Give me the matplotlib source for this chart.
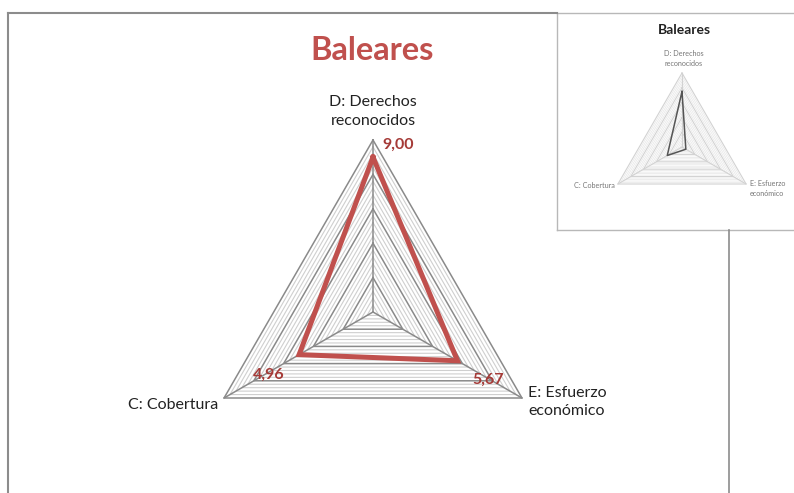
import numpy as np
import matplotlib
matplotlib.use("Agg")
import matplotlib.pyplot as plt
from matplotlib.lines import Line2D

# — DATA —
TITLE      = "Baleares"
CATEGORIES = ["D: Derechos\nreconocidos", "E: Esfuerzo\neconómico", "C: Cobertura"]
VALUES     = [9.00, 5.67, 4.96]
VALUE_TXT  = ["9,00", "5,67", "4,96"]
# thumbnail in the corner shows an older version of the same chart
THUMB_VALUES = [7.5, 0.6, 2.3]
R_MAX      = 10
MAJOR_STEP = 2
MINOR_STEP = 0.4

# — STYLE —
W, H   = 794, 493
DPI    = 100
RED    = "#C0504D"
DARKRED = "#A53A37"
FONT   = ["Lato", "DejaVu Sans"]

plt.rcParams['font.family'] = FONT

fig = plt.figure(figsize=(W / DPI, H / DPI), dpi=DPI)


def fx(px):
    return px / W


def fy(py):
    # py measured from the top of the image
    return 1 - py / H


def radar_axes(cx, cy, rad):
    """Polar axes centred at pixel (cx, cy) with radius rad pixels."""
    ax = fig.add_axes([fx(cx - rad), fy(cy + rad), 2 * rad / W, 2 * rad / H],
                      projection='polar')
    ax.set_theta_offset(np.pi / 2)
    ax.set_theta_direction(-1)
    ax.set_ylim(0, R_MAX)
    ax.grid(False)
    ax.set_xticks([])
    ax.set_yticks([])
    ax.spines['polar'].set_visible(False)
    ax.patch.set_alpha(0)
    return ax


def draw_grid(ax, minor_col, major_col, minor_lw, major_lw):
    n = len(CATEGORIES)
    ang = np.linspace(0, 2 * np.pi, n, endpoint=False)
    ang_c = np.append(ang, ang[0])
    for r in np.arange(MINOR_STEP, R_MAX + 1e-9, MINOR_STEP):
        major = abs(r / MAJOR_STEP - round(r / MAJOR_STEP)) < 1e-6
        ax.plot(ang_c, [r] * (n + 1),
                color=major_col if major else minor_col,
                lw=major_lw if major else minor_lw,
                zorder=2 if major else 1, clip_on=False)
    for a in ang:
        ax.plot([a, a], [0, R_MAX], color=major_col, lw=major_lw, zorder=2,
                clip_on=False)
    return ang, ang_c


# 1) frame of the main chart (partly hidden by the thumbnail)
frame_col = "#8c8c8c"
fig.add_artist(Line2D([fx(8), fx(8)], [fy(13), fy(493)], color=frame_col, lw=1.5))
fig.add_artist(Line2D([fx(8), fx(557)], [fy(13), fy(13)], color=frame_col, lw=1.5))
fig.add_artist(Line2D([fx(729), fx(729)], [fy(230), fy(493)], color=frame_col, lw=1.2))

# 2) main radar
ax = radar_axes(373, 312, 172)
ang, ang_c = draw_grid(ax, "#cfcfcf", "#8a8a8a", 0.8, 1.1)
vals = VALUES + VALUES[:1]
ax.plot(ang_c, vals, color=RED, lw=3.6, zorder=5, solid_joinstyle='miter',
        clip_on=False)

fig.text(fx(372), fy(50), TITLE, ha='center', va='center', fontsize=23.5,
         fontweight='bold', color=RED)

label_off = [(0, 12, 'center', 'bottom'), (6, -4, 'left', 'center'),
             (-6, -7, 'right', 'center')]
for a, lab, (dx, dy, ha, va) in zip(ang, CATEGORIES, label_off):
    ax.annotate(lab, (a, R_MAX), xytext=(dx, dy), textcoords='offset pixels',
                ha=ha, va=va, fontsize=11.5, linespacing=1.45, color="#222222",
                annotation_clip=False)

value_off = [(25, 12), (31, -19), (-30, -20)]
for a, v, t, (dx, dy) in zip(ang, VALUES, VALUE_TXT, value_off):
    ax.annotate(t, (a, v), xytext=(dx, dy), textcoords='offset pixels',
                ha='center', va='center', fontsize=11.5, fontweight='bold',
                color=DARKRED, annotation_clip=False, zorder=6)

# 3) thumbnail in the top right corner
box = fig.add_axes([fx(557), fy(230), (W - 557) / W, (230 - 13) / H])
box.set_xticks([])
box.set_yticks([])
box.set_facecolor("white")
for side in ['left', 'top', 'bottom']:
    box.spines[side].set_color("#b8b8b8")
    box.spines[side].set_linewidth(1.0)
box.spines['right'].set_visible(False)

tax = radar_axes(682, 147, 74)
t_ang, t_ang_c = draw_grid(tax, "#e6e6e6", "#d2d2d2", 0.5, 0.8)
t_vals = THUMB_VALUES + THUMB_VALUES[:1]
tax.plot(t_ang_c, t_vals, color="#555555", lw=1.1, zorder=5, clip_on=False)

fig.text(fx(684), fy(30), TITLE, ha='center', va='center', fontsize=10,
         fontweight='bold', color="#222222")
t_off = [(2, 6, 'center', 'bottom'), (4, -4, 'left', 'center'),
         (-3, -1, 'right', 'center')]
for a, lab, (dx, dy, ha, va) in zip(t_ang, CATEGORIES, t_off):
    tax.annotate(lab, (a, R_MAX), xytext=(dx, dy), textcoords='offset pixels',
                 ha=ha, va=va, fontsize=5.2, linespacing=1.5, color="#777777",
                 annotation_clip=False)

fig.savefig("out.png", dpi=DPI)
